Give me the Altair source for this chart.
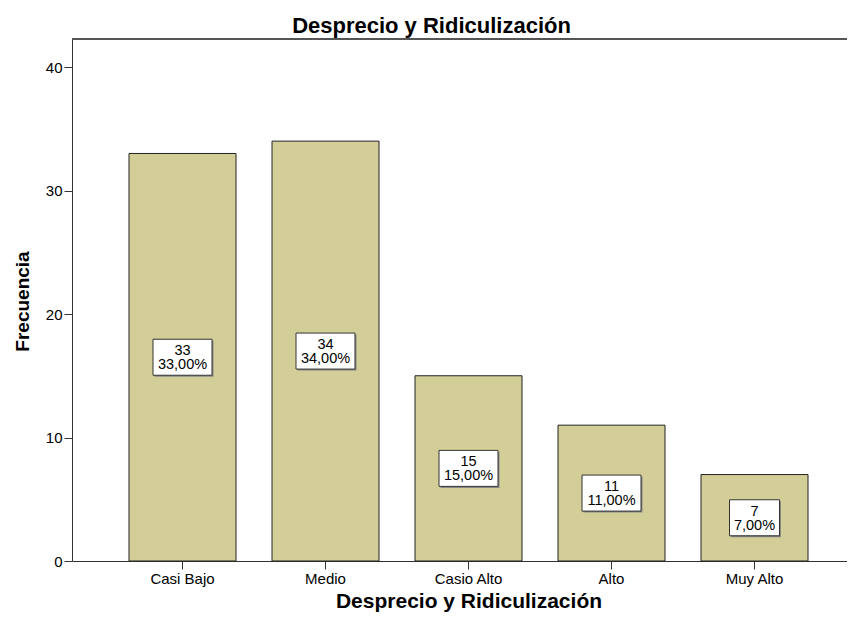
import altair as alt
import pandas as pd

categories = ["Casi Bajo", "Medio", "Casio Alto", "Alto", "Muy Alto"]
frequencies = [33, 34, 15, 11, 7]
percents = [33.00, 34.00, 15.00, 11.00, 7.00]

labels = [f"{f}\n{p:.2f}".replace(".", ",") + "%" for f, p in zip(frequencies, percents)]
df = pd.DataFrame({"cat": categories, "freq": frequencies, "pct": percents, "label": labels})

FONT = "Liberation Sans"
YMAX = 42.27

x_enc = alt.X(
    "cat:N",
    sort=categories,
    scale=alt.Scale(range=[0, 793], paddingInner=36 / 143, paddingOuter=57 / 143),
    axis=alt.Axis(
        title="Desprecio y Ridiculización",
        titleFont=FONT, titleFontSize=21, titleFontWeight="bold", titleColor="#000",
        titleBaseline="alphabetic", titleY=46,
        labelFont=FONT, labelFontSize=15, labelColor="#000", labelAngle=0,
        labelPadding=2, tickSize=8, tickColor="#333", domainColor="#333",
        grid=False,
    ),
)
y_enc = alt.Y(
    "freq:Q",
    scale=alt.Scale(domain=[0, YMAX], nice=False, zero=True),
    axis=alt.Axis(
        title="Frecuencia", values=[0, 10, 20, 30, 40],
        titleFont=FONT, titleFontSize=19, titleFontWeight="bold", titleColor="#000",
        titleBaseline="alphabetic", titleX=-44, titleY=262,
        labelFont=FONT, labelFontSize=15, labelColor="#000",
        labelPadding=2, tickSize=8, tickColor="#333", domainColor="#333",
        grid=False,
    ),
)

bars = alt.Chart(df).mark_bar(color="#D3CE97", stroke="#222", strokeWidth=1).encode(
    x=x_enc, y=y_enc
)

top_border = alt.Chart(df).mark_rule(color="#555", strokeWidth=2).encode(
    y=alt.datum(YMAX)
)

wide_box = "M-0.983,-0.6L0.983,-0.6L0.983,0.6L-0.983,0.6Z"
narrow_box = "M-0.833,-0.6L0.833,-0.6L0.833,0.6L-0.833,0.6Z"

base = alt.Chart(df).transform_calculate(mid="datum.freq / 2")

shadow = base.mark_point(filled=True, size=3600, color="#888", opacity=1,
                         xOffset=1.5, yOffset=1.5).encode(
    x=alt.X("cat:N", sort=categories),
    y=alt.Y("mid:Q"),
    shape=alt.condition("datum.freq < 10", alt.value(narrow_box), alt.value(wide_box)),
)
boxes = base.mark_point(filled=True, size=3600, fill="#FFFFFF", stroke="#333",
                        strokeWidth=1, opacity=1, fillOpacity=1).encode(
    x=alt.X("cat:N", sort=categories),
    y=alt.Y("mid:Q"),
    shape=alt.condition("datum.freq < 10", alt.value(narrow_box), alt.value(wide_box)),
)
texts = base.mark_text(font=FONT, fontSize=14.5, lineBreak="\n", lineHeight=14,
                       baseline="middle", align="center", color="#000", dy=-6).encode(
    x=alt.X("cat:N", sort=categories),
    y=alt.Y("mid:Q"),
    text="label:N",
)

chart = alt.layer(bars, top_border, shadow, boxes, texts).properties(
    width=775,
    height=522,
    autosize=alt.AutoSizeParams(type="none"),
    padding={"left": 64, "top": 31, "right": 0, "bottom": 51},
    title=alt.TitleParams(
        "Desprecio y Ridiculización", font=FONT, fontSize=22, fontWeight="bold",
        color="#000", anchor="middle", frame="group", dx=-28, dy=23, offset=6,
        baseline="alphabetic",
    ),
).configure_view(fill="#F0F0F0", strokeWidth=0).configure(background="#FFFFFF")

chart.save("out.html", embed_options={"renderer": "svg", "actions": False})
